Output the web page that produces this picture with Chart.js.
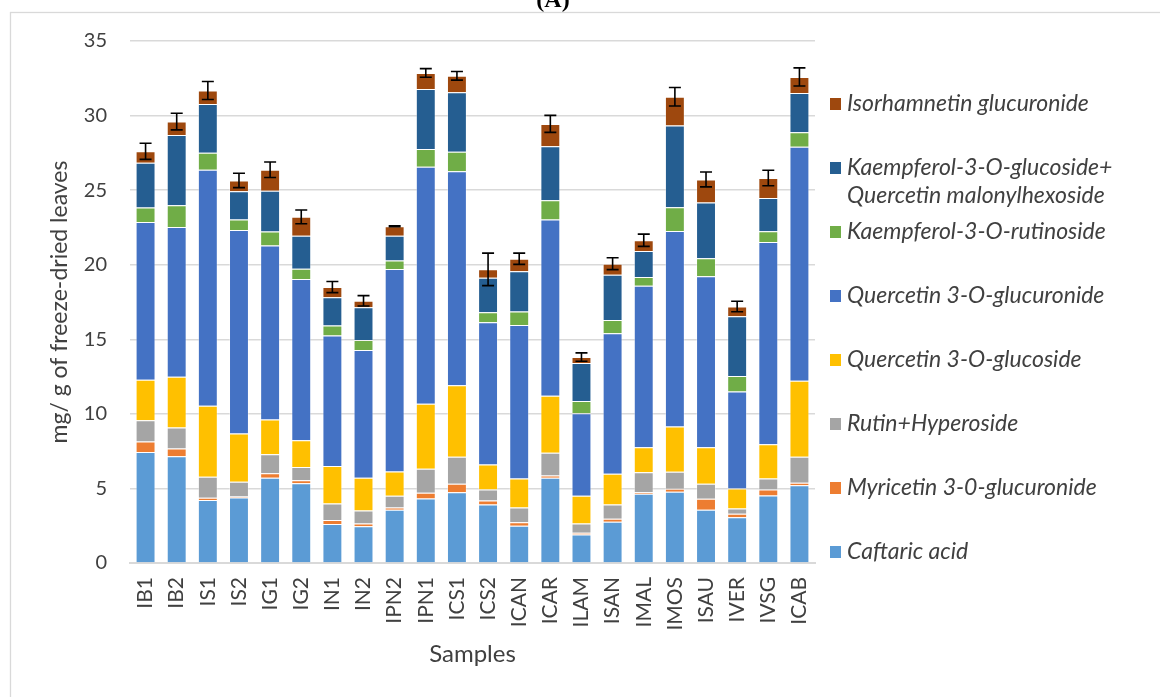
<!DOCTYPE html>
<html>
<head>
<meta charset="utf-8">
<script src="https://cdn.jsdelivr.net/npm/chart.js@4.4.1/dist/chart.umd.min.js"></script>
<style>
  body { margin: 0; background: #fff; }
  #wrap { position: relative; width: 1160px; height: 697px; }
</style>
</head>
<body>
<div id="wrap"><canvas id="chart" width="1160" height="697"></canvas></div>
<script>
// data (mg / g of freeze-dried leaves)
const samples = ['IB1', 'IB2', 'IS1', 'IS2', 'IG1', 'IG2', 'IN1', 'IN2', 'IPN2', 'IPN1', 'ICS1',
  'ICS2', 'ICAN', 'ICAR', 'ILAM', 'ISAN', 'IMAL', 'IMOS', 'ISAU', 'IVER', 'IVSG', 'ICAB'];

const caftaric     = [7.44, 7.15, 4.22, 4.39, 5.72, 5.34, 2.62, 2.47, 3.57, 4.33, 4.75, 3.92, 2.49, 5.72, 1.91, 2.76, 4.64, 4.78, 3.57, 3.07, 4.53, 5.22];
const myricetin    = [0.70, 0.52, 0.15, 0.07, 0.29, 0.20, 0.27, 0.18, 0.15, 0.38, 0.56, 0.27, 0.25, 0.15, 0.11, 0.20, 0.11, 0.20, 0.73, 0.23, 0.40, 0.16];
const rutin        = [1.43, 1.41, 1.41, 0.99, 1.28, 0.89, 1.10, 0.87, 0.79, 1.61, 1.82, 0.74, 0.98, 1.53, 0.63, 0.96, 1.33, 1.14, 1.01, 0.35, 0.74, 1.75];
const qGlucoside   = [2.72, 3.41, 4.76, 3.23, 2.33, 1.80, 2.51, 2.20, 1.63, 4.35, 4.78, 1.68, 1.95, 3.81, 1.86, 2.07, 1.68, 3.03, 2.45, 1.35, 2.29, 5.09];
const qGlucuronide = [10.58, 10.04, 15.83, 13.65, 11.66, 10.81, 8.75, 8.56, 13.57, 15.90, 14.35, 9.53, 10.29, 11.82, 5.53, 9.41, 10.83, 13.11, 11.46, 6.50, 13.56, 15.69];
const kRutinoside  = [0.96, 1.46, 1.14, 0.70, 0.94, 0.69, 0.67, 0.68, 0.58, 1.19, 1.32, 0.68, 0.90, 1.30, 0.83, 0.90, 0.58, 1.60, 1.21, 1.03, 0.72, 0.97];
const kGlucoside   = [3.01, 4.71, 3.27, 1.90, 2.74, 2.22, 1.90, 2.19, 1.66, 4.02, 3.99, 2.31, 2.71, 3.61, 2.54, 3.03, 1.75, 5.47, 3.74, 4.02, 2.24, 2.63];
const isorhamnetin = [0.76, 0.90, 0.90, 0.72, 1.41, 1.26, 0.68, 0.43, 0.63, 1.08, 1.10, 0.56, 0.83, 1.50, 0.40, 0.74, 0.72, 1.93, 1.55, 0.65, 1.33, 1.08];
// error bars on the stack totals
const totalErr     = [0.54, 0.56, 0.60, 0.48, 0.52, 0.46, 0.37, 0.35, 0.03, 0.29, 0.29, 1.09, 0.38, 0.57, 0.28, 0.40, 0.41, 0.62, 0.50, 0.35, 0.52, 0.61];

const yTicks = [0, 5, 10, 15, 20, 25, 30, 35];

const series = [
  { label: 'Caftaric acid', data: caftaric, color: '#5B9BD5' },
  { label: 'Myricetin 3-0-glucuronide', data: myricetin, color: '#ED7D31' },
  { label: 'Rutin+Hyperoside', data: rutin, color: '#A5A5A5' },
  { label: 'Quercetin 3-O-glucoside', data: qGlucoside, color: '#FFC000' },
  { label: 'Quercetin 3-O-glucuronide', data: qGlucuronide, color: '#4472C4' },
  { label: 'Kaempferol-3-O-rutinoside', data: kRutinoside, color: '#70AD47' },
  { label: ['Kaempferol-3-O-glucoside+', 'Quercetin malonylhexoside'], data: kGlucoside, color: '#255E91' },
  { label: 'Isorhamnetin glucuronide', data: isorhamnetin, color: '#9E480E' }
];

const FONT = 'Lato, "Open Sans", sans-serif';

// frame, "(A)" caption, error bars and the legend on the right
const extras = {
  id: 'extras',
  beforeDraw(chart) {
    const c = chart.ctx;
    c.save();
    c.fillStyle = '#fff';
    c.fillRect(0, 0, chart.width, chart.height);
    c.strokeStyle = '#d9d9d9';
    c.lineWidth = 1.3;
    c.strokeRect(10.5, 12.5, chart.width + 20, chart.height + 20);
    c.fillStyle = '#000';
    c.font = 'bold 24px "Liberation Serif", serif';
    c.textAlign = 'center';
    c.textBaseline = 'alphabetic';
    c.fillText('(A)', 553, 7);
    c.restore();
  },
  afterDatasetsDraw(chart) {
    const c = chart.ctx;
    const y = chart.scales.y;
    const last = chart.getDatasetMeta(chart.data.datasets.length - 1);
    c.save();
    c.strokeStyle = '#000';
    c.lineWidth = 1.6;
    samples.forEach((s, i) => {
      let total = 0;
      chart.data.datasets.forEach(ds => { total += ds.data[i]; });
      const x = last.data[i].x;
      const yHi = y.getPixelForValue(total + totalErr[i]);
      const yLo = y.getPixelForValue(total - totalErr[i]);
      c.beginPath();
      c.moveTo(x, yHi); c.lineTo(x, yLo);
      c.moveTo(x - 6, yHi); c.lineTo(x + 6, yHi);
      c.moveTo(x - 6, yLo); c.lineTo(x + 6, yLo);
      c.stroke();
    });
    c.restore();
  },
  afterDraw(chart) {
    const c = chart.ctx;
    const area = chart.chartArea;
    const items = chart.data.datasets.slice().reverse();
    c.save();
    c.font = 'italic 23px ' + FONT;
    c.textBaseline = 'middle';
    c.textAlign = 'left';
    items.forEach((ds, k) => {
      const yy = area.top + 63 + k * 64;
      const xx = area.right + 15;
      c.fillStyle = ds.backgroundColor;
      c.fillRect(xx, yy - 6, 11, 12);
      c.fillStyle = '#404040';
      const lines = Array.isArray(ds.label) ? ds.label : [ds.label];
      lines.forEach((t, j) => c.fillText(t, xx + 17, yy + j * 28));
    });
    c.restore();
  }
};

const myChart = new Chart(document.getElementById('chart'), {
  type: 'bar',
  data: {
    labels: samples,
    datasets: series.map(s => ({
      label: s.label,
      data: s.data,
      backgroundColor: s.color,
      borderColor: 'rgba(255,255,255,0.35)',
      borderWidth: 1,
      categoryPercentage: 1,
      barPercentage: 0.64
    }))
  },
  options: {
    responsive: false,
    animation: false,
    layout: { padding: { left: 0, right: 345, top: 41, bottom: 0 } },
    scales: {
      x: {
        stacked: true,
        grid: { display: false, drawTicks: false },
        border: { display: true, color: '#d9d9d9', width: 2 },
        ticks: {
          color: '#404040',
          font: { family: FONT, size: 21 },
          minRotation: 90,
          maxRotation: 90,
          autoSkip: false,
          padding: 14
        },
        title: {
          display: true,
          text: 'Samples',
          color: '#404040',
          font: { family: FONT, size: 24 },
          padding: { top: 0, bottom: 28 }
        },
        afterFit(scale) { scale.height = 134; }
      },
      y: {
        stacked: true,
        min: 0,
        max: 35,
        afterBuildTicks(scale) { scale.ticks = yTicks.map(v => ({ value: v })); },
        grid: { color: '#d9d9d9', lineWidth: 1.5, drawTicks: false },
        border: { display: false },
        ticks: {
          color: '#404040',
          font: { family: FONT, size: 20 },
          padding: 23
        },
        title: {
          display: true,
          text: 'mg/ g of freeze-dried leaves',
          color: '#404040',
          font: { family: FONT, size: 23 },
          padding: { top: 46, bottom: 0 }
        },
        afterFit(scale) { scale.width = 130; }
      }
    },
    plugins: {
      legend: { display: false },
      tooltip: { enabled: false }
    }
  },
  plugins: [extras]
});
</script>
</body>
</html>
